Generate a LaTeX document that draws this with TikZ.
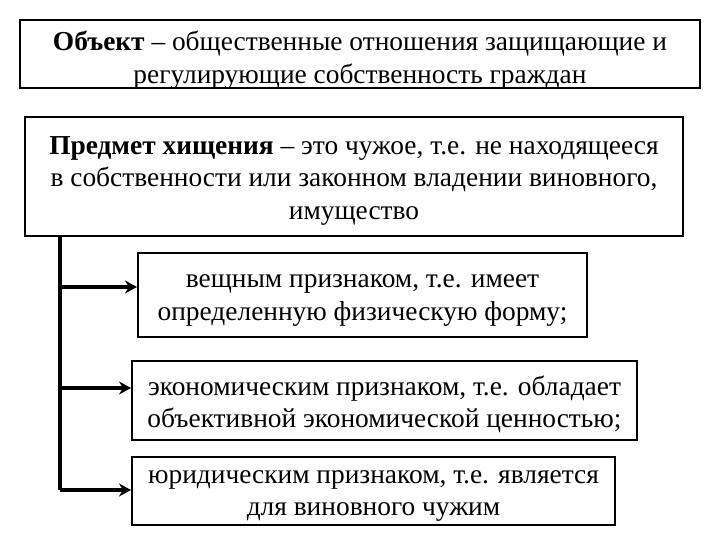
\documentclass[tikz,border=0pt]{standalone}
\usepackage{fontspec}
\setmainfont{Liberation Serif}
\usetikzlibrary{positioning,arrows.meta}
% text block lowered inside its box, box size untouched
\newcommand{\boxlines}[2]{\raisebox{-#1}[\height][\depth]{\begin{tabular}{@{}c@{}}#2\end{tabular}}}

\begin{document}
\begin{tikzpicture}[x=1bp, y=-1bp,
  every node/.style={font=\fontsize{27.5}{32.5}\selectfont},
  box/.style={draw, line width=2bp, inner sep=0pt, fill=white},
  trunk/.style={line width=3.5bp},
  branch/.style={line width=3.5bp, -{Stealth[length=12bp, width=13bp, inset=4bp]}}]
\useasboundingbox (0,0) rectangle (720,540);

\node[box, minimum width=680bp, minimum height=68bp] (obj) at (360,54)
  {\boxlines{6.5bp}{\textbf{Объект} -- общественные отношения защищающие и\\регулирующие собственность граждан}};
\node[box, minimum width=658bp, minimum height=119bp] (pred) at (354,176.5)
  {\boxlines{4bp}{\textbf{Предмет хищения} -- это чужое, т.е. не находящееся\\в собственности или законном владении виновного,\\имущество}};

\node[box, minimum width=449bp, minimum height=84bp] (vesh) at (362.5,295)
  {\boxlines{2.5bp}{вещным признаком, т.е. имеет\\определенную физическую форму;}};
\node[box, minimum width=505bp, minimum height=79bp] (econ) at (384.5,400.5)
  {\boxlines{4.5bp}{экономическим признаком, т.е. обладает\\объективной экономической ценностью;}};
\node[box, minimum width=483bp, minimum height=68bp] (jur) at (373.5,491)
  {\boxlines{2bp}{юридическим признаком, т.е. является\\для виновного чужим}};

% trunk from the subject box
\coordinate (t1) at (60,287);
\coordinate (t2) at (60,388);
\coordinate (t3) at (60,490);
\draw[trunk] (pred.south -| t1) -- (t3);

\draw[branch] (t1) -- (vesh.west |- t1);
\draw[branch] (t2) -- (econ.west |- t2);
\draw[branch] (t3) -- (jur.west |- t3);
\end{tikzpicture}
\end{document}
